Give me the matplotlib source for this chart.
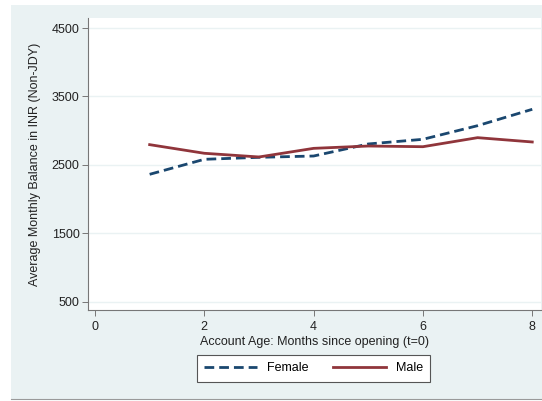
import numpy as np
import matplotlib.pyplot as plt
from matplotlib.patches import Rectangle
from matplotlib.lines import Line2D

# =====================================================
# DATA
# =====================================================

months = [1, 2, 3, 4, 5, 6, 7, 8]
female = [2364, 2583, 2612, 2631, 2807, 2875, 3074, 3313]
male = [2797, 2671, 2617, 2743, 2777, 2767, 2899, 2836]

xticks = [0, 2, 4, 6, 8]
yticks = [500, 1500, 2500, 3500, 4500]

NAVY = "#1A476F"
MAROON = "#90353B"
BG = "#EAF2F3"

plt.rcParams["font.family"] = ["Liberation Sans", "DejaVu Sans"]

# =====================================================
# FIGURE
# =====================================================

fig = plt.figure(figsize=(5.42, 4.01), dpi=100)
fig.patch.set_facecolor("white")

W, H = 542, 401
fig.patches.append(Rectangle((11 / W, 1 - 399 / H), (542 - 11) / W, (399 - 5) / H,
                             transform=fig.transFigure, facecolor=BG,
                             edgecolor="none", zorder=-5))
fig.add_artist(Line2D([11 / W, 1], [1 - 399 / H, 1 - 399 / H],
                      transform=fig.transFigure, color="#9a9a9a", lw=0.8))

ax = fig.add_axes([88 / W, 1 - 310 / H, (541 - 88) / W, (310 - 18) / H])
ax.set_zorder(2)
ax.set_facecolor("white")

ax.plot(months, female, color=NAVY, lw=2.0, linestyle=(0, (3.5, 1.8)),
        label="Female")
ax.plot(months, male, color=MAROON, lw=2.0, label="Male")

ax.set_xlim(-0.128, 8.16)
ax.set_ylim(383, 4646)
ax.set_xticks(xticks)
ax.set_yticks(yticks)
ax.yaxis.grid(True, color=BG, lw=1.0)
ax.set_axisbelow(True)

for s in ["top", "right"]:
    ax.spines[s].set_visible(False)
for s in ["left", "bottom"]:
    ax.spines[s].set_color("#777777")
    ax.spines[s].set_linewidth(0.8)

ax.tick_params(axis="both", labelsize=9, length=4, width=0.7,
               color="#777777", labelcolor="#222222")
ax.tick_params(axis="x", pad=4)
ax.tick_params(axis="y", pad=2)

ax.set_xlabel("Account Age: Months since opening (t=0)", fontsize=9,
              color="#222222", labelpad=2)
ax.set_ylabel("Average Monthly Balance in INR (Non-JDY)", fontsize=9,
              color="#222222", labelpad=8)

leg = fig.legend(loc="center", bbox_to_anchor=(313.5 / W, 1 - 368 / H),
                 ncol=2, fontsize=9, frameon=True, fancybox=False,
                 framealpha=1, handlelength=4.2, columnspacing=2.0,
                 handletextpad=0.8, borderpad=0.6)
leg.get_frame().set_edgecolor("#555555")
leg.get_frame().set_linewidth(0.8)
leg.get_frame().set_facecolor("white")

fig.savefig("out.png", dpi=100)
